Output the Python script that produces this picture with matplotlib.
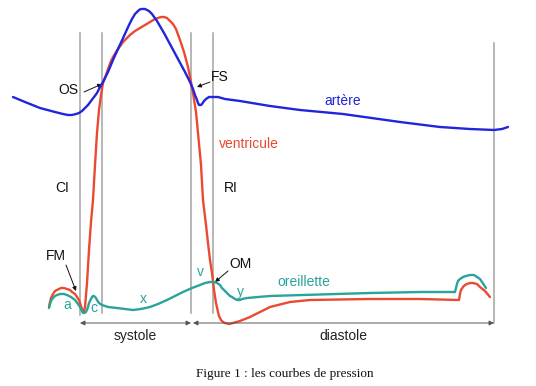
import matplotlib.pyplot as plt

# chart coordinates: x to the right, y downward (same frame as the drawing)
artere_x = [13, 25, 40, 55, 63, 68, 72, 76, 79, 82, 85, 88, 91, 94, 97, 99, 103, 108, 113, 118, 124,
            129, 132, 135, 137, 139, 141, 143, 145, 147, 149, 152, 157, 164, 171, 178, 185, 190, 193,
            195, 197, 198, 199, 200, 201, 202, 204, 206, 209, 213, 218, 225, 240, 270,
            300, 343, 400, 440, 470, 494, 502, 508]
artere_y = [97, 102, 108, 112, 114, 115, 115, 114, 113, 111, 108, 105, 101, 97, 93, 89, 82, 72, 60,
            49, 36, 25, 19, 14, 12, 10, 9, 9, 9, 10, 11, 14, 21, 33, 46, 59, 72, 82, 89,
            95, 100, 103, 105, 105, 105, 104, 101, 99, 97, 97, 97, 99, 101, 106,
            110, 114, 122, 127, 129, 130, 129, 127]

ventricule_x = [49, 50, 51, 53, 55, 57, 59, 61, 64, 67, 70, 72, 75, 77, 79, 80, 82, 83, 84, 85, 87,
                89, 91, 93, 95, 97, 99, 101, 103, 106, 108, 111, 113, 116, 118, 121, 123, 127, 130,
                135, 140, 145, 150, 155, 158, 161, 164, 167, 170, 173, 176, 180, 184, 188, 191, 193,
                196, 198, 201, 203, 206, 208, 210, 212, 214, 216, 218, 219, 221, 223, 225, 229, 233,
                240, 250, 260, 270, 290, 310, 370, 420, 459, 460, 461, 463, 465, 467, 470, 473, 477,
                480, 485, 490]
ventricule_y = [307, 302, 298, 294, 291, 290, 289, 288, 288, 289, 290, 292, 294, 297, 300, 303, 309,
                312, 311, 307, 283, 250, 222, 200, 165, 133, 110, 95, 83, 75, 69, 61, 57, 52, 49,
                45, 42, 38, 35, 31, 28, 25, 22, 19, 18, 17, 17, 18, 21, 24, 29, 40, 52, 67, 82, 93,
                112, 133, 165, 200, 225, 243, 260, 273, 290, 303, 312, 316, 320, 322, 323, 324, 323,
                321, 317, 312, 307, 302, 300, 299, 299, 300, 294, 290, 287, 285, 284, 283, 283, 284,
                287, 291, 297]

oreillette_x = [49, 50, 51, 53, 55, 57, 60, 64, 67, 71, 75, 78, 80, 82, 83, 84, 86, 88, 89, 91, 92,
                93, 94, 95, 96, 97, 99, 102, 108, 117, 125, 133, 141, 150, 158, 167, 175, 183, 192,
                200, 205, 210, 214, 217, 220, 222, 225, 227, 230, 232, 235, 237, 240, 242, 247, 258,
                270, 303, 370, 420, 455, 456, 457, 458, 460, 463, 466, 470, 474, 477, 480, 482, 486]
oreillette_y = [308, 304, 301, 298, 296, 295, 294, 294, 295, 297, 300, 304, 307, 311, 313, 313, 312,
                307, 303, 299, 297, 296, 296, 297, 298, 300, 303, 305, 307, 308, 309, 310, 309, 307,
                304, 300, 296, 292, 288, 285, 283, 282, 282, 283, 285, 288, 291, 293, 296, 297, 299,
                300, 300, 299, 298, 297, 296, 295, 293, 292, 292, 288, 284, 281, 279, 277, 276, 275,
                275, 277, 279, 282, 288]

# vertical markers: x, top, bottom
markers_x = [80, 102, 191, 213, 494]
markers_top = [33, 33, 33, 33, 43]
markers_bottom = [315, 313, 313, 313, 323]

# phases drawn along the bottom
phases = ["systole", "diastole"]
phase_start = [80, 193]
phase_end = [191, 494]

blue = "#2125dc"
red = "#ea4a30"
teal = "#2aa39a"
gray = "#a3a3a3"

plt.rcParams['font.family'] = ['Liberation Sans', 'DejaVu Sans']

fig = plt.figure(figsize=(5.36, 3.86), dpi=100)
ax = fig.add_axes([0, 0, 1, 1])
ax.set_xlim(0, 536)
ax.set_ylim(386, 0)
ax.axis('off')

for x, t, b in zip(markers_x, markers_top, markers_bottom):
    ax.plot([x, x], [t, b], color=gray, lw=1.1, zorder=1)

style = dict(lw=1.7, solid_joinstyle='round', solid_capstyle='round')
ax.plot(ventricule_x, ventricule_y, color=red, zorder=3, **style)
ax.plot(oreillette_x, oreillette_y, color=teal, zorder=4, **style)
ax.plot(artere_x, artere_y, color=blue, zorder=5, **style)

# systole / diastole arrows
for name, x0, x1 in zip(phases, phase_start, phase_end):
    ax.annotate("", xy=(x1, 323), xytext=(x0, 323),
                arrowprops=dict(arrowstyle='<|-|>', color='#555555', lw=0.7,
                                mutation_scale=7, shrinkA=0, shrinkB=0))
    ax.text((x0 + x1) / 2, 336, name, ha='center', va='center', fontsize=10, color='#222222')

# event labels with arrows
events = [("OS", (68, 90), (84, 92), (102, 84)),
          ("FS", (220, 77), (210, 82), (197, 87)),
          ("FM", (56, 256), (66, 265), (76, 291)),
          ("OM", (240, 264), (228, 271), (215, 282))]
for txt, pos, start, end in events:
    ax.text(pos[0], pos[1], txt, ha='center', va='center', fontsize=10, color='#111111')
    ax.annotate("", xy=end, xytext=start,
                arrowprops=dict(arrowstyle='-|>', color='#111111', lw=0.7,
                                mutation_scale=6, shrinkA=0, shrinkB=0))

ax.text(62, 188, "CI", ha='center', va='center', fontsize=10, color='#111111')
ax.text(231, 188, "RI", ha='center', va='center', fontsize=10, color='#111111')

ax.text(343, 101, "artère", ha='center', va='center', fontsize=10, color=blue)
ax.text(249, 144, "ventricule", ha='center', va='center', fontsize=10, color=red)
ax.text(304, 282, "oreillette", ha='center', va='center', fontsize=10, color=teal)

for txt, x, y in [("a", 67, 305), ("c", 94, 308), ("x", 143, 299), ("v", 200, 272), ("y", 240, 292)]:
    ax.text(x, y, txt, ha='center', va='center', fontsize=10, color=teal)

ax.text(285, 374, "Figure 1 : les courbes de pression", ha='center', va='center',
        fontsize=9.5, family=['Liberation Serif', 'DejaVu Serif'], color='#111111')

fig.savefig("out.png", dpi=100)
